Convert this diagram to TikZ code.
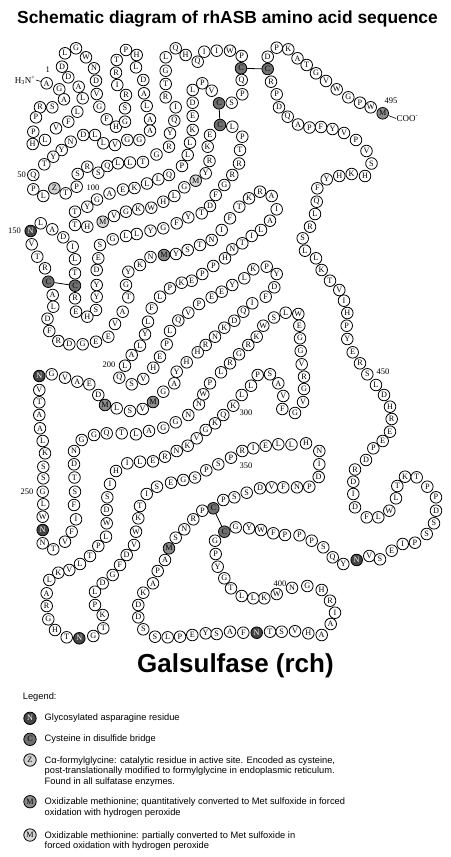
\documentclass[tikz,border=0pt]{standalone}
\usepackage{fontspec}
\setmainfont{Liberation Serif}
\newfontfamily\sansf{Liberation Sans}
\ExplSyntaxOn
\str_new:N \g_aa_seq_str
\str_gset:Nn \g_aa_seq_str {AGASRPPHLV FLLADDLGWN DVGFHGSRIR TPHLDALAAG GVLLDNYYTQ PLZTPSRSQL LTGRYQIRTG LQHQIIWPCQ PSCVPLDEKL LPQLLKEAGY TTHMVGKWHL GMYRKECLPT RRGFDTYFGY LLGSEDYYSH ERCTLIDALN VTRCALDFRD GEEVATGYKN MYSTNIFTKR AIALITNHPP EKPLFLYLAL QSVHEPLQVP EEYLKPYDFI QDKNRHHYAG MVSLMDEAVG NVTAALKSSG LWNNTVFIFS TDNGGQTLAG GNNWPLRGRK WSLWEGGVRG VGFVASPLLK QKGVKNRELI HISDWLPTLV KLARGHTNGT KPLDGFDVWK TISEGSPSPR IELLHNIDPN FVDSSPCPRN SMAPAKDDSS LPEYSAFNTS VHAAIRHGNW KLLTGYPGCG YWFPPPSQYN VSEIPSSDPP TKTLWLFDID RDPEERHDLS REYPHIVTKL LSRLQFYHKH SVPVYFPAQD PRCDPKATGV WGPWM}
\cs_new:Npn \aaletter #1 { \str_item:Nn \g_aa_seq_str {#1} }
\ExplSyntaxOff
\definecolor{glyc}{HTML}{454545}
\definecolor{cysc}{HTML}{707070}
\definecolor{fgly}{HTML}{D2D2D2}
\definecolor{metq}{HTML}{8C8C8C}
\definecolor{metp}{HTML}{D6D6D6}
\tikzset{
  res/.style={circle,draw=black,line width=0.8pt,fill=white,minimum size=11.6pt,inner sep=0pt,
    font=\fontsize{8.2}{8.2}\selectfont},
  glyN/.style={fill=glyc,text=white},
  cysC/.style={fill=cysc},
  fglyZ/.style={fill=fgly},
  metQ/.style={fill=metq},
  metP/.style={fill=metp},
  spc/.code={\pgfkeysifdefined{/tikz/sp#1/.@cmd}{\pgfkeysalso{/tikz/sp#1}}{}},
  sp150/.style=glyN, sp241/.style=glyN, sp253/.style=glyN, sp328/.style=glyN, sp388/.style=glyN, sp420/.style=glyN,
  sp79/.style=cysC, sp83/.style=cysC, sp117/.style=cysC, sp143/.style=cysC, sp154/.style=cysC, sp367/.style=cysC, sp409/.style=cysC, sp483/.style=cysC,
  sp53/.style=fglyZ,
  sp171/.style=metQ, sp231/.style=metQ, sp235/.style=metQ, sp372/.style=metQ, sp495/.style=metQ,
  sp104/.style=metP, sp112/.style=metP,
  numlbl/.style={font=\fontsize{8.5}{8.5}\selectfont,inner sep=0pt},
  bridge/.style={line width=0.8pt},
  legtxt/.style={font=\sansf\fontsize{9.3}{10.5}\selectfont,anchor=west,inner sep=0pt,align=left},
  legres/.style={res,minimum size=12.4pt},
}
\begin{document}
\begin{tikzpicture}[x=1pt,y=-1pt]
\useasboundingbox (0,0) rectangle (450,857);
\fill[white] (0,0) rectangle (450,857);
\node[font=\sansf\bfseries\fontsize{17.4}{17.4}\selectfont] (title) at (227.5,19.3) {Schematic diagram of rhASB amino acid sequence};
\foreach \i/\x/\y in {
1/46.7/83.3,2/59.3/89.3,3/64/99.3,4/52.3/107.3,5/40/107.3,6/36/117.3,7/33.3/131.7,8/32.7/144,9/45/140,10/56/128.3,
11/68.3/121.7,12/77.3/111.7,13/82.7/98.3,14/78.7/86.7,15/68.3/77.3,16/62/66.7,17/65/53.3,18/76/48.3,19/86/57.3,20/94/68.3,
21/96/80.7,22/96.7/94,23/99.3/106.7,24/106.7/119.3,25/116/126.7,26/125/121.7,27/125/108.3,28/126/95,29/117.3/85,30/116/72.7,
31/116.7/60,32/126/50,33/136.7/55,34/136/67.3,35/143.3/80,36/144/93.3,37/146.7/106,38/150/119.3,39/150/130.7,40/139.3/140,
41/127.3/140,42/115/145,43/103.3/143.3,44/95/135,45/83.3/135,46/70.7/141.7,47/61.7/150,48/53.3/156.7,49/44.3/164.3,50/33.3/175,
51/33.3/189.3,52/43.3/196,53/54.3/188.3,54/65.7/193.3,55/76.7/186.7,56/77.7/174,57/87.3/166.7,58/98.3/172.7,59/107.3/166,60/118/163.3,
61/130/162.5,62/143/162,63/156.5/154.5,64/169/146.7,65/170/133.3,66/174.3/120.7,67/175.7/107.3,68/165.7/97.3,69/165.7/84,70/165.7/70.7,
71/165.7/57.3,72/175.7/48.3,73/185.7/55,74/197.7/61.7,75/204.3/51.7,76/216.7/50.7,77/230/50.7,78/241.7/56,79/241/68.3,80/241.7/80,
81/242.3/94.3,82/231.7/102.7,83/219/103.3,84/211.7/90.7,85/202.3/83.3,86/192.7/90,87/192.7/102.7,88/192.7/116,89/192.7/130,90/190/142.7,
91/187.7/155,92/182/166,93/169/175,94/158.3/179.3,95/147/183.5,96/134.5/188,97/123/189.5,98/109.5/193.5,99/97/199.5,100/87.3/206.7,
101/75/211.7,102/75/225,103/87.3/226.7,104/102.7/221.7,105/114/216,106/126/211.7,107/138.3/209.3,108/151.3/207.7,109/163.3/201.7,110/174.3/196,
111/184.3/187.3,112/195.7/180.7,113/205.7/173.3,114/209.5/161,115/207.7/146.7,116/210/135,117/220/125,118/232.3/126.7,119/242.3/136.7,120/240/150,
121/239/163.5,122/232.3/175,123/224.3/185,124/215.7/195,125/210/206,126/201.7/213.3,127/188.3/217.3,128/176.7/223.3,129/163.3/228.3,130/150.5/230.7,
131/136.7/234,132/126/236,133/112.7/239.3,134/100/245,135/98.3/258.3,136/96.7/270,137/96.7/285,138/96.7/296.7,139/96/310,140/87.3/316.7,
141/76/311.7,142/75/298.3,143/75/285.7,144/75/273.3,145/75/259.3,146/72.7/246.7,147/63.3/237.3,148/52.3/229.3,149/40.7/223.3,150/30.7/231,
151/31.7/244.3,152/37.3/256.7,153/45/268.3,154/48.3/281.7,155/52.7/295,156/53.3/306.7,157/47.5/318.7,158/49.3/331,159/58.3/341,160/69.3/344.3,
161/82.7/344.3,162/96/341.7,163/108.3/336.7,164/115/324,165/122.7/311.7,166/128.3/297.3,167/126/285,168/128.3/271.7,169/140/265,170/150.5/257,
171/164/255,172/176/254,173/187.7/250,174/200/245,175/211.7/240,176/221.7/230,177/230/218.3,178/239.3/206.7,179/249/198.3,180/260/191.7,
181/271.7/196,182/276.7/209.3,183/270/220.7,184/261/230,185/251.7/236,186/242.3/243.3,187/232.3/249.3,188/225/258.3,189/213.3/266,190/202.3/274,
191/191.7/280.7,192/181.7/282.7,193/170/288.3,194/160/296.7,195/151.7/308.3,196/148/321.7,197/145/334.3,198/140/345.7,199/131.7/355,200/125/365.7,
201/119.3/377.7,202/131.7/384.3,203/143.3/379,204/153.3/367.7,205/160/356.7,206/166.7/344.3,207/170/331,208/178.3/320.5,209/188.3/312.7,210/199/304,
211/211.7/297.3,212/221.7/291.7,213/232.3/285,214/244.3/278.3,215/253.3/269.3,216/266.7/266.7,217/276.7/274,218/274.3/287.3,219/265.7/296.7,220/252.3/303.3,
221/243.3/311.7,222/234.3/320.7,223/224.3/327.7,224/215/336.7,225/205.7/345,226/197.7/352.3,227/186.7/362.3,228/176.7/371.7,229/174.3/383.3,230/163.3/391.7,
231/153/402,232/142.7/409,233/130/411,234/116.7/408.3,235/105/405,236/98.3/395,237/89.3/384.3,238/77.3/381.7,239/65/377.7,240/51.7/374.3,
241/39.3/376,242/39.3/390,243/39.3/402.3,244/39.3/415,245/40/428.3,246/42.7/441,247/45/453.3,248/43.3/466.7,249/43.3/478.3,250/42.7/491.7,
251/43.3/504.3,252/42.7/516.7,253/42.7/530,254/42.7/543.3,255/53.3/549.3,256/65/541.7,257/71.7/531.7,258/76/519.3,259/74/505,260/75/491.7,
261/74.5/477.5,262/74/464.3,263/74/451,264/81.7/440,265/94/435,266/106.7/433.3,267/121.7/433.3,268/136/434.3,269/149/431,270/163.3/427.7,
271/175.7/422.3,272/188.3/415,273/199/404.3,274/203.3/394.3,275/210/383.3,276/221/372.3,277/230/363.3,278/239/354.3,279/248.3/345,280/256.7/336.7,
281/263.3/325.7,282/274/317.5,283/285.7/312.7,284/298.3/314,285/299.3/325.7,286/300/338.3,287/300.7/351,288/301.7/364.3,289/304/376.7,290/304/389,
291/303/402,292/295/413,293/282.3/409,294/283.3/396,295/278.3/383.3,296/270/374.3,297/257.7/375,298/251/385.7,299/241.7/395,300/233.3/405.7,
301/223.3/415,302/215/423.3,303/205.7/430,304/196.7/438.3,305/187.7/445.7,306/176.7/451,307/165/456.7,308/153/461.3,309/140/461.7,310/127.3/463.3,
311/116/471,312/110/484,313/107.3/497.3,314/106.7/510,315/106.7/523.3,316/106/536.7,317/98.3/546,318/90/556,319/80/564,320/69.3/570,
321/58.3/572.7,322/49.3/580,323/46.7/593.3,324/46.7/606,325/48.3/619.3,326/55/630,327/66.7/637.3,328/79.3/638.3,329/93.3/636,330/103.3/628.3,
331/102.7/615,332/95/605,333/95/591.7,334/102.7/583.3,335/112.7/575,336/120/565,337/126.7/555,338/134/545,339/136/531.7,340/138.3/518.3,
341/140/506,342/146.7/494,343/157/486.7,344/171/482.7,345/183.3/480,346/195/477.5,347/206.3/470.3,348/218.3/464.3,349/231/457.7,350/242.3/451,
351/253.3/448.3,352/265.7/445.7,353/278.3/444.3,354/291.5/444.5,355/306/443.3,356/319.3/451,357/319.3/464.3,358/318.7/477,359/309.3/486.7,360/297/487.3,
361/283.3/487.3,362/271.7/487.3,363/260/488.3,364/246.7/492.7,365/234.3/497.3,366/223.3/500,367/213.3/508.3,368/202.3/510.7,369/193.3/519.3,370/184.3/529.3,
371/175.7/537.7,372/169/548.3,373/165/560,374/157.7/571,375/153/583.3,376/143.3/592.7,377/138.3/605,378/138.3/617.3,379/143.3/629.3,380/155/636.7,
381/167.7/637.3,382/180/636.7,383/192.3/635,384/205.7/633.3,385/216.7/634,386/230/631.7,387/243.3/632.7,388/256.7/632.7,389/270/631.7,390/281.7/631.7,
391/295/631.2,392/308.3/633.3,393/321.7/635,394/330.7/624,395/335/612.7,396/330/600.7,397/321.7/590,398/307.3/586,399/292/587.8,400/276.7/594,
401/264.3/598.3,402/253.3/598.3,403/241.7/596,404/231/588.3,405/224.3/578.3,406/217.7/566.7,407/215.7/554,408/215/540.7,409/224.3/531.7,410/235.7/527.3,
411/249/528.3,412/261/530,413/273.3/533.3,414/285/535,415/299.5/535.3,416/311.7/540.7,417/323.3/547.3,418/332.7/557.3,419/343.3/564,420/356.7/560,
421/369.3/556,422/380/559.3,423/391.7/550.7,424/402.7/544,425/415/542.7,426/426.7/534,427/434/523.3,428/436/510.7,429/436/497.3,430/427.3/486.7,
431/416.7/477.3,432/405/476.7,433/397.3/486,434/396/498.3,435/389.3/510.7,436/378.3/517.3,437/366.7/517.3,438/355/507.3,439/353.3/494,440/353.3/481.7,
441/355/469.5,442/366/460,443/373.3/448.3,444/382.7/441,445/390/431.7,446/391.7/419,447/390/406.7,448/384/395,449/376/385,450/367.3/374.3,
451/360/363.3,452/352.7/352.3,453/347.3/339,454/346.7/325.7,455/347.3/313,456/344/300.7,457/339.3/290,458/330/280.7,459/321.7/270,460/316/258.3,
461/305/250.7,462/302.7/238.3,463/310/226.7,464/315/214,465/316.7/201.7,466/317.3/188.3,467/326.7/179.3,468/339.3/176,469/351.7/174,470/365/176,
471/371.5/163.5,472/366.5/151,473/356/140,474/344/133,475/332.5/129,476/321/127,477/309.5/127.5,478/298/124.5,479/287.7/116.7,480/279/107.3,
481/276.7/94.3,482/271/81.7,483/267.7/69,484/267.7/56.7,485/276.7/47.7,486/288.3/49.3,487/297.5/58.3,488/306.7/65,489/316/73.3,490/326/81,
491/336.7/89.3,492/348.3/97.3,493/360/102.7,494/370.7/107.3,495/382.7/113.3}
{\node[res,spc=\i] (r\i) at (\x,\y) {\aaletter{\i}};}
% disulfide bridges
\draw[bridge] (r79) -- (r483);
\draw[bridge] (r83) -- (r117);
\draw[bridge] (r143) -- (r154);
\draw[bridge] (r367) -- (r409);
% termini
\node[font=\fontsize{9}{9}\selectfont,anchor=east,inner sep=0.5pt] (nterm) at (36,80) {H\textsubscript{3}N\textsuperscript{+}};
\draw[line width=0.6pt] (nterm.east) -- (r1);
\node[font=\fontsize{9}{9}\selectfont,anchor=west,inner sep=0.5pt] (cterm) at (396,118.5) {COO\textsuperscript{-}};
\draw[line width=0.6pt] (r495) -- (cterm.west);
% numbers
\node[numlbl] (n1) at (47.7,70) {1};
\node[numlbl] (n50) at (21.5,175) {50};
\node[numlbl] (n100) at (93,187.5) {100};
\node[numlbl] (n150) at (14.5,231) {150};
\node[numlbl] (n200) at (109,364.5) {200};
\node[numlbl] (n250) at (27,491.7) {250};
\node[numlbl] (n300) at (246,412.5) {300};
\node[numlbl] (n350) at (246,466) {350};
\node[numlbl] (n400) at (280,583.5) {400};
\node[numlbl] (n450) at (383,371.5) {450};
\node[numlbl] (n495) at (391,101) {495};
% big title
\node[font=\sansf\bfseries\fontsize{26}{26}\selectfont] (gal) at (235.5,666) {Galsulfase (rch)};
% legend
\node[legtxt] (legh) at (22.7,697.3) {Legend:};
\node[legres,glyN] (l1) at (30,718.3) {N};
\node[legtxt] (t1) at (44.5,717.7) {Glycosylated asparagine residue};
\node[legres,cysC] (l2) at (30,739.3) {C};
\node[legtxt] (t2) at (44.5,739.3) {Cysteine in disulfide bridge};
\node[legres,fglyZ] (l3) at (30,760) {Z};
\node[legtxt,anchor=north west] (t3) at (44.5,756.2) {Cα-formylglycine: catalytic residue in active site. Encoded as cysteine,\\post-translationally modified to formylglycine in endoplasmic reticulum.\\Found in all sulfatase enzymes.};
\node[legres,metQ] (l4) at (30,801.7) {M};
\node[legtxt,anchor=north west] (t4) at (44.5,797.9) {Oxidizable methionine; quantitatively converted to Met sulfoxide in forced\\oxidation with hydrogen peroxide};
\node[legres,metP] (l5) at (30,835) {M};
\node[legtxt,anchor=north west] (t5) at (44.5,831.2) {Oxidizable methionine: partially converted to Met sulfoxide in\\forced oxidation with hydrogen peroxide};
\end{tikzpicture}
\end{document}
